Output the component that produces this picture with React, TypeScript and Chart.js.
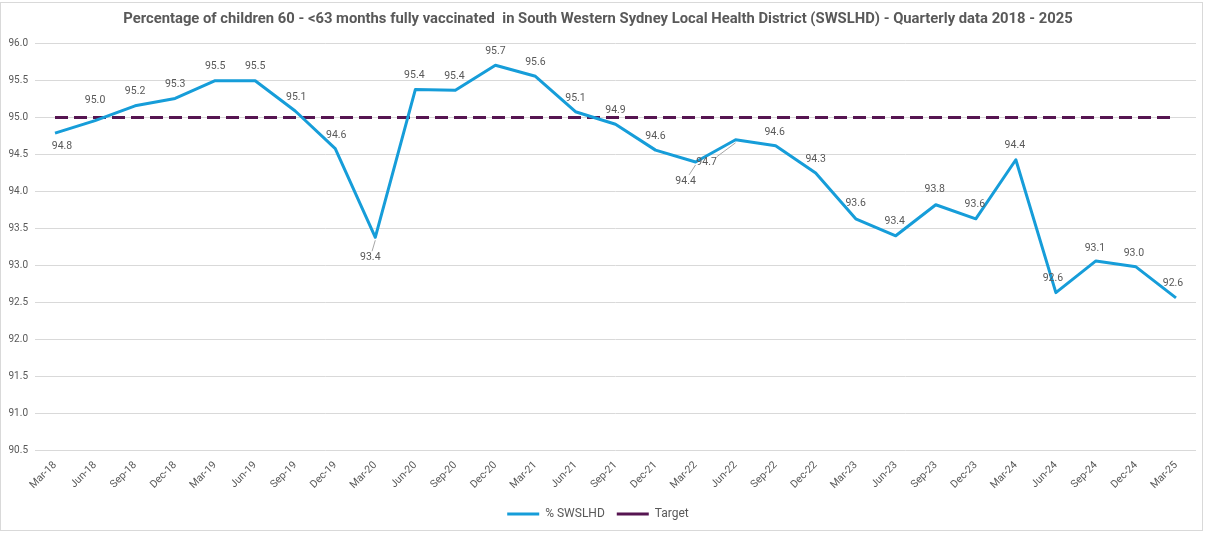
import React, { useEffect, useRef } from "react";
import { Chart, registerables } from "chart.js";

Chart.register(...registerables);

const quarters = [
  "Mar-18", "Jun-18", "Sep-18", "Dec-18", "Mar-19", "Jun-19", "Sep-19", "Dec-19",
  "Mar-20", "Jun-20", "Sep-20", "Dec-20", "Mar-21", "Jun-21", "Sep-21", "Dec-21",
  "Mar-22", "Jun-22", "Sep-22", "Dec-22", "Mar-23", "Jun-23", "Sep-23", "Dec-23",
  "Mar-24", "Jun-24", "Sep-24", "Dec-24", "Mar-25",
];

const swslhd = [
  94.79, 94.96, 95.16, 95.26, 95.5, 95.5, 95.09, 94.58,
  93.38, 95.38, 95.37, 95.71, 95.56, 95.08, 94.91, 94.56,
  94.4, 94.7, 94.62, 94.25, 93.63, 93.4, 93.82, 93.63,
  94.43, 92.63, 93.06, 92.98, 92.56,
];

const target = quarters.map(() => 95.0);

const yTicks = { min: 90.5, max: 96.0, step: 0.5 };

const titleText =
  "Percentage of children 60 - <63 months fully vaccinated  in South Western Sydney Local Health District (SWSLHD) - Quarterly data 2018 - 2025";

// label placement relative to the point: [dx, dy, leader]
const labelPlacement: [number, number, boolean][] = [
  [7, 13, false], [0, -20, false], [0, -14, false], [0, -14, false], [0, -14, false],
  [0, -14, false], [1, -14, false], [1, -13, false], [-5, 20, true], [-1, -14, false],
  [-1, -14, false], [0, -14, false], [0, -14, false], [0, -13, false], [0, -14, false],
  [0, -14, false], [-10, 19, true], [-29, 23, true], [-1, -13, false], [0, -14, false],
  [0, -15, false], [-1, -14, false], [-1, -15, false], [-1, -14, false], [-1, -14, false],
  [-3, -14, false], [-1, -13, false], [-2, -13, false], [-3, -14, false],
];

const GRAY = "#595959";
const FONT = "Roboto, 'Liberation Sans', sans-serif";

const dataLabelPlugin = {
  id: "dataLabels",
  afterDatasetsDraw(chart: any) {
    const meta = chart.getDatasetMeta(0);
    const ctx = chart.ctx;
    ctx.save();
    ctx.font = `10.5px ${FONT}`;
    ctx.fillStyle = GRAY;
    ctx.textAlign = "center";
    ctx.textBaseline = "middle";
    meta.data.forEach((pt: any, i: number) => {
      const [dx, dy, leader] = labelPlacement[i];
      const lx = pt.x + dx;
      const ly = pt.y + dy;
      if (leader) {
        ctx.strokeStyle = "#a6a6a6";
        ctx.lineWidth = 1;
        ctx.beginPath();
        ctx.moveTo(pt.x, pt.y + 3);
        ctx.lineTo(lx + (pt.x - lx) * 0.35, ly - 6);
        ctx.stroke();
      }
      ctx.fillText(swslhd[i].toFixed(1), lx, ly);
    });
    ctx.restore();
  },
};

export default function App() {
  const canvasRef = useRef<HTMLCanvasElement>(null);

  useEffect(() => {
    if (!canvasRef.current) return;
    const chart = new Chart(canvasRef.current, {
      type: "line",
      data: {
        labels: quarters,
        datasets: [
          {
            label: "% SWSLHD",
            data: swslhd,
            borderColor: "#169dd9",
            backgroundColor: "#169dd9",
            borderWidth: 3,
            pointRadius: 0,
            tension: 0,
            borderJoinStyle: "round",
          },
          {
            label: "Target",
            data: target,
            borderColor: "#561551",
            backgroundColor: "#561551",
            borderWidth: 3,
            borderDash: [13, 6],
            pointRadius: 0,
          },
        ],
      },
      options: {
        animation: false,
        responsive: false,
        maintainAspectRatio: false,
        layout: { padding: { left: 0, right: 12, top: 0, bottom: 4 } },
        plugins: {
          title: {
            display: true,
            text: titleText,
            color: GRAY,
            font: { family: FONT, size: 14.8, weight: "bold" },
            padding: { top: 10, bottom: 16 },
          },
          legend: {
            position: "bottom",
            labels: {
              usePointStyle: true,
              pointStyle: "line",
              pointStyleWidth: 32,
              boxHeight: 12,
              color: GRAY,
              font: { family: FONT, size: 12 },
              padding: 12,
            },
          },
          tooltip: { enabled: false },
        },
        scales: {
          x: {
            offset: true,
            grid: { display: false },
            border: { display: false },
            ticks: {
              autoSkip: false,
              maxRotation: 45,
              minRotation: 45,
              color: GRAY,
              font: { family: FONT, size: 10.5 },
              padding: 1,
            },
            afterFit(scale: any) {
              scale.height = 46;
            },
          },
          y: {
            min: yTicks.min,
            max: yTicks.max,
            grid: { color: "#d9d9d9", lineWidth: 1, drawTicks: false },
            border: { display: false },
            ticks: {
              stepSize: yTicks.step,
              color: GRAY,
              font: { family: FONT, size: 10 },
              padding: 7,
              callback: (v: any) => Number(v).toFixed(1),
            },
            afterFit(scale: any) {
              scale.width = 35;
            },
          },
        },
      },
      plugins: [dataLabelPlugin],
    });
    return () => chart.destroy();
  }, []);

  return (
    <div style={{ position: "fixed", left: 0, top: 0, width: 1208, height: 534, background: "#fff" }}>
      <div
        style={{
          position: "absolute",
          left: 0,
          top: 2,
          width: 1203,
          height: 529,
          border: "1px solid #d9d9d9",
          boxSizing: "border-box",
        }}
      />
      <canvas
        ref={canvasRef}
        width={1208}
        height={534}
        style={{ position: "absolute", left: 0, top: 0, width: 1208, height: 534 }}
      />
    </div>
  );
}
